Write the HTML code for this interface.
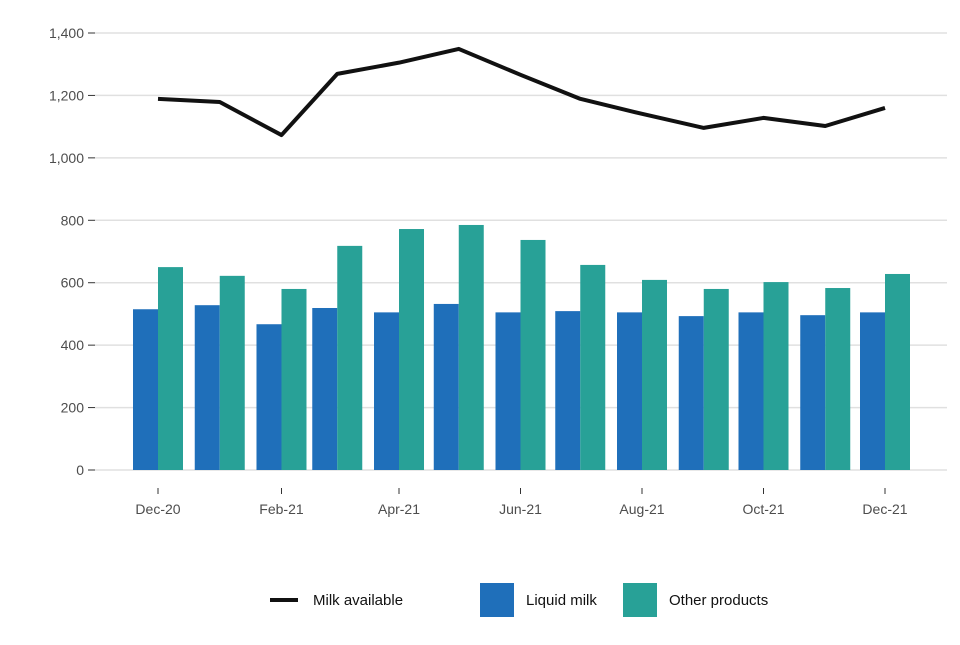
<!DOCTYPE html>
<html><head><meta charset="utf-8"><style>
body{margin:0;background:#fff;font-family:"Liberation Sans",Arial,sans-serif}
svg text{font-family:"Liberation Sans",Arial,sans-serif}
</style></head><body>
<svg id="chart" width="960" height="640"></svg>
<script>
const months=["Dec-20","Jan-21","Feb-21","Mar-21","Apr-21","May-21","Jun-21","Jul-21","Aug-21","Sep-21","Oct-21","Nov-21","Dec-21"];
const dayOffsets=[0,31,62,90,121,151,182,212,243,274,304,335,365];
const liquidMilk=[515,528,467,519,505,532,505,509,505,493,505,496,505];
const otherProducts=[650,622,580,718,772,785,737,657,609,580,602,583,628];
const milkAvailable=[1189,1179,1073,1269,1305,1349,1266,1189,1141,1096,1128,1102,1160];
const yTicks=[0,200,400,600,800,1000,1200,1400];
const yTickLabels=["0","200","400","600","800","1,000","1,200","1,400"];
const xTickIdx=[0,2,4,6,8,10,12];

const svg=document.getElementById('chart');
const NS='http://www.w3.org/2000/svg';
const y=v=>470-v*(437/1400);
const x=d=>158+d*(727/365);
function mk(tag,attrs,parent){const e=document.createElementNS(NS,tag);for(const k in attrs)e.setAttribute(k,attrs[k]);(parent||svg).appendChild(e);return e;}

yTicks.forEach((t,i)=>{
  const g=mk('line',{x1:95,x2:947,y1:y(t),y2:y(t),stroke:'#e0e0e0','stroke-width':1.5});
  
  
  const tk=mk('line',{x1:88,x2:95,y1:y(t),y2:y(t),stroke:'#333','stroke-width':1});
  
  
  const tx=mk('text',{x:84,y:y(t)+5,'text-anchor':'end','font-size':14,fill:'#4d4d4d'});
  tx.textContent=yTickLabels[i];
  
  
});
months.forEach((m,i)=>{
  const cx=x(dayOffsets[i]);
  const b1=mk('rect',{x:cx-25,y:y(liquidMilk[i]),width:25,height:470-y(liquidMilk[i]),fill:'#1f6fba'});
  
  
  const b2=mk('rect',{x:cx,y:y(otherProducts[i]),width:25,height:470-y(otherProducts[i]),fill:'#28a197'});
  
  
});
xTickIdx.forEach(i=>{
  const cx=x(dayOffsets[i]);
  const tk=mk('line',{x1:cx,x2:cx,y1:488,y2:494,stroke:'#333','stroke-width':1});
  
  
  const tx=mk('text',{x:cx,y:514,'text-anchor':'middle','font-size':14,fill:'#4d4d4d'});
  tx.textContent=months[i];
  
  
});
const pts=milkAvailable.map((v,i)=>x(dayOffsets[i])+','+y(v)).join(' ');
const ln=mk('polyline',{points:pts,fill:'none',stroke:'#111','stroke-width':4,'stroke-linejoin':'round'});



const lg=mk('g',{});


const l1=mk('line',{x1:270,x2:298,y1:600,y2:600,stroke:'#111','stroke-width':4},lg);


const t1=mk('text',{x:313,y:605,'font-size':15,fill:'#111'},lg);t1.textContent='Milk available';


const r1=mk('rect',{x:480,y:583,width:34,height:34,fill:'#1f6fba'},lg);


const t2=mk('text',{x:526,y:605,'font-size':15,fill:'#111'},lg);t2.textContent='Liquid milk';


const r2=mk('rect',{x:623,y:583,width:34,height:34,fill:'#28a197'},lg);


const t3=mk('text',{x:669,y:605,'font-size':15,fill:'#111'},lg);t3.textContent='Other products';


</script>
</body></html>
